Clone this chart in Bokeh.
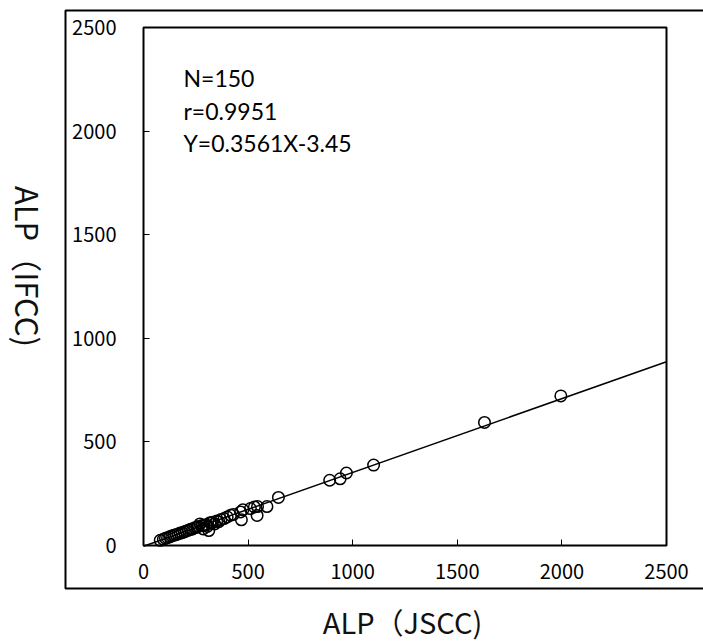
import math
from bokeh.plotting import figure
from bokeh.models import Range1d, Label, BoxAnnotation, FixedTicker
from bokeh.embed import file_html
from bokeh.resources import INLINE

# ---- data ----
jscc = [80, 95, 105, 115, 125, 135, 145, 155, 165, 175, 185, 195, 205, 215,
        225, 235, 245, 255, 262, 270, 280, 285, 290, 300, 305, 312, 318, 325,
        330, 340, 350, 360, 370, 385, 400, 416, 430, 464, 468, 475, 511, 530,
        543, 545, 590, 645, 890, 940, 970, 1100, 1630, 1995]
ifcc = [25, 30, 35, 38, 42, 46, 50, 52, 56, 60, 62, 66, 70, 74,
        78, 80, 86, 88, 92, 104, 96, 80, 98, 100, 92, 72, 110, 108,
        112, 104, 118, 115, 125, 130, 138, 146, 150, 162, 124, 172, 178, 186,
        145, 188, 188, 232, 315, 322, 350, 388, 594, 722]
slope = 0.3561
intercept = -3.45
fit_x = [0, 2500]
axis_min = 0
axis_max = 2500
tick_values = [0, 500, 1000, 1500, 2000, 2500]
stats_lines = ["N=150", "r=0.9951", "Y=0.3561X-3.45"]
x_title = "ALP（JSCC)"
y_title = "ALP（IFCC)"

fit_y = [slope * x + intercept for x in fit_x]

# ---- layout (pixels in the canvas) ----
W, H = 703, 643
F_L, F_R, F_T, F_B = 143, 666, 27, 545        # inner plot frame
sx = (F_R - F_L) / (axis_max - axis_min)
sy = (F_B - F_T) / (axis_max - axis_min)

def dx(px):
    return axis_min + (px - F_L) / sx

def dy(py):
    return axis_min + (F_B - py) / sy

p = figure(width=W, height=H, output_backend="svg", toolbar_location=None,
           x_range=Range1d(dx(0), dx(W)), y_range=Range1d(dy(H), dy(0)),
           min_border_left=0, min_border_right=0,
           min_border_top=0, min_border_bottom=0)
p.background_fill_color = "white"
p.border_fill_color = "white"
p.outline_line_color = None
p.grid.visible = False

for ax in (p.xaxis[0], p.yaxis[0]):
    ax.fixed_location = axis_min
    ax.ticker = FixedTicker(ticks=tick_values)
    ax.major_tick_in = 6
    ax.major_tick_out = 0
    ax.major_tick_line_color = "black"
    ax.major_tick_line_width = 1
    ax.minor_tick_line_color = None
    ax.axis_line_color = None
    ax.major_label_text_font = "Noto Sans CJK JP"
    ax.major_label_text_font_size = "20px"
    ax.major_label_text_color = "black"
p.yaxis.major_label_standoff = 27
p.xaxis.major_label_standoff = 18

# inner plot frame
p.add_layout(BoxAnnotation(left=axis_min, right=axis_max, bottom=axis_min, top=axis_max,
                           fill_color=None, fill_alpha=0, line_color="black",
                           line_width=2, line_alpha=1))
# outer chart-area box (right side runs past the window)
p.add_layout(BoxAnnotation(left=dx(65), right=dx(W + 40), top=dy(10), bottom=dy(588),
                           fill_color=None, fill_alpha=0, line_color="black",
                           line_width=2, line_alpha=1))

p.line(fit_x, fit_y, line_color="black", line_width=1.5)
p.scatter(jscc, ifcc, marker="circle", size=11.5, fill_color=None,
          line_color="black", line_width=1.5)

# statistics text
for txt, base_px in zip(stats_lines, [77, 110, 142]):
    p.add_layout(Label(x=dx(183), y=dy(base_px), text=txt, text_font="Lato",
                       text_font_size="23px", text_color="black",
                       text_baseline="alphabetic"))

# axis titles
p.add_layout(Label(x=dx(28), y=dy(266), text=y_title, angle=-math.pi / 2,
                   text_align="center", text_baseline="middle",
                   text_font="Noto Sans CJK JP", text_font_size="31px",
                   text_color="#111111"))
p.add_layout(Label(x=dx(402), y=dy(620), text=x_title,
                   text_align="center", text_baseline="middle",
                   text_font="Noto Sans CJK JP", text_font_size="29px",
                   text_color="#111111"))

open("out.html", "w").write(file_html(p, INLINE))
